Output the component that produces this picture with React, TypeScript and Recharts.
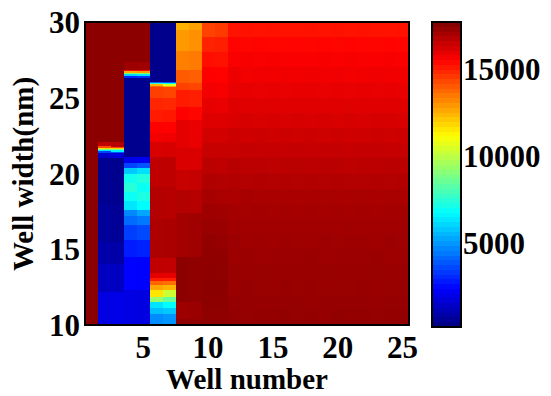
import { ComposedChart, XAxis, YAxis, ReferenceArea } from 'recharts'

// colour range of the colorbar (counts)
const cMin = 150
const cMax = 17680

const xTicks = [5, 10, 15, 20, 25]
const yTicks = [10, 15, 20, 25, 30]
const barTicks = [5000, 10000, 15000]

// wells 1-9: [from nm, to nm, counts]
const well1 = [[10, 20, 17480], [20, 30, 17440]]
const well2 = [
  [10, 12.2, 1850], [12.2, 14, 1250], [14, 15.5, 900], [15.5, 18, 600], [18, 21.0, 450],
  [21.0, 21.38, 1500], [21.38, 21.47, 3500], [21.47, 21.55, 6200], [21.55, 21.62, 8800],
  [21.62, 21.7, 11800], [21.7, 21.8, 14200], [21.8, 22.05, 16600], [22.05, 30, 17460],
]
const well3 = [
  [10, 12.2, 1950], [12.2, 14, 1300], [14, 15.5, 850], [15.5, 18, 550], [18, 21.0, 420],
  [21.0, 21.35, 1700], [21.35, 21.45, 3800], [21.45, 21.53, 6500], [21.53, 21.6, 9000],
  [21.6, 21.68, 12000], [21.68, 21.78, 14300], [21.78, 22.05, 16700], [22.05, 30, 17460],
]
const well4 = [
  [10, 12.3, 1850], [12.3, 14.5, 2350], [14.5, 15.6, 2800], [15.6, 16.6, 3400], [16.6, 17.2, 4200],
  [17.2, 17.6, 4700], [17.6, 18.2, 6300], [18.2, 18.8, 6900], [18.8, 19.4, 7400], [19.4, 20.0, 7000],
  [20.0, 20.35, 5800], [20.35, 20.7, 3500], [20.7, 21.1, 2000], [21.1, 26.3, 400],
  [26.3, 26.45, 3000], [26.45, 26.55, 6000], [26.55, 26.65, 9000], [26.65, 26.75, 12500],
  [26.75, 26.85, 15400], [26.85, 27.35, 17150], [27.35, 30, 17460],
]
const well5 = [
  [10, 12.3, 1800], [12.3, 14.5, 2300], [14.5, 15.6, 2900], [15.6, 16.6, 3600], [16.6, 17.2, 4400],
  [17.2, 17.6, 5200], [17.6, 18.2, 6700], [18.2, 18.8, 7200], [18.8, 19.4, 6900], [19.4, 20.0, 7300],
  [20.0, 20.35, 6200], [20.35, 20.7, 3800], [20.7, 21.1, 2100], [21.1, 26.3, 420],
  [26.3, 26.45, 3200], [26.45, 26.55, 6300], [26.55, 26.65, 9300], [26.65, 26.75, 12800],
  [26.75, 26.85, 15500], [26.85, 27.35, 17100], [27.35, 30, 17460],
]
const well6 = [
  [10, 10.7, 4750], [10.7, 11.15, 5630], [11.15, 11.55, 6280], [11.55, 11.85, 9350], [11.85, 12.3, 11550],
  [12.3, 12.65, 12640], [12.65, 12.9, 13740], [12.9, 13.1, 15050], [13.1, 13.45, 15930], [13.45, 14.45, 16580],
  [14.45, 17.0, 16900], [17.0, 19.1, 16800], [19.1, 21.1, 16580], [21.1, 22.1, 16150], [22.1, 22.7, 15700],
  [22.7, 23.4, 15490], [23.4, 24.2, 15050], [24.2, 25.0, 14850], [25.0, 25.7, 14400],
  [25.7, 25.78, 13800], [25.78, 25.9, 12300], [25.9, 25.97, 7500], [25.97, 26.05, 4000], [26.05, 30, 380],
]
const well7 = [
  [10, 10.7, 4900], [10.7, 11.15, 5800], [11.15, 11.55, 6720], [11.55, 11.85, 8480], [11.85, 12.3, 10230],
  [12.3, 12.65, 12400], [12.65, 12.9, 13600], [12.9, 13.1, 15000], [13.1, 13.45, 15900], [13.45, 14.45, 16550],
  [14.45, 17.0, 16950], [17.0, 19.1, 16750], [19.1, 21.1, 16600], [21.1, 22.1, 16200], [22.1, 22.7, 15750],
  [22.7, 23.4, 15450], [23.4, 24.2, 15100], [24.2, 25.0, 14800], [25.0, 25.7, 14300],
  [25.7, 25.78, 12600], [25.78, 25.9, 10500], [25.9, 25.97, 6800], [25.97, 26.05, 3800], [26.05, 30, 380],
]
const well8 = [
  [10, 10.4, 17400], [10.4, 11.5, 17150], [11.5, 14.5, 17450], [14.5, 17.4, 17050], [17.4, 18.9, 16800],
  [18.9, 20.2, 16450], [20.2, 21.7, 16150], [21.7, 23.5, 15930], [23.5, 24.4, 15490], [24.4, 25.5, 15050],
  [25.5, 26.0, 14400], [26.0, 26.8, 13950], [26.8, 28.1, 13300], [28.1, 29.45, 12860], [29.45, 30, 12450],
]
const well9 = [
  [10, 10.4, 17350], [10.4, 11.5, 17200], [11.5, 14.5, 17400], [14.5, 17.4, 17100], [17.4, 18.9, 16750],
  [18.9, 20.2, 16500], [20.2, 21.7, 16100], [21.7, 23.5, 15850], [23.5, 24.4, 15400], [24.4, 25.5, 14950],
  [25.5, 26.0, 14300], [26.0, 26.8, 13850], [26.8, 28.1, 13400], [28.1, 29.45, 13000], [29.45, 30, 12700],
]

// wells 10-25: one value per 1 nm row, from 10 nm upwards
const rowEdges = [10, 11, 12, 13, 14, 15, 16, 17, 18, 19, 20, 21, 22, 23, 24, 25, 26, 27, 28, 29, 30]
const well10 = [17420, 17450, 17460, 17430, 17400, 17350, 17250, 17150, 17000, 16850, 16650, 16450, 16250, 16050, 15900, 15700, 15500, 15250, 14900, 14350]
const well11 = [17400, 17430, 17450, 17420, 17380, 17300, 17200, 17100, 16950, 16800, 16600, 16450, 16250, 16050, 15850, 15650, 15450, 15200, 14950, 14500]
const well12 = [17330, 17310, 17210, 17240, 17150, 17190, 17080, 17060, 16910, 16820, 16700, 16450, 16350, 16130, 16050, 15860, 15760, 15550, 15440, 15180]
const well13 = [17300, 17280, 17270, 17200, 17200, 17120, 17120, 17000, 16980, 16780, 16640, 16500, 16300, 16190, 16000, 15900, 15700, 15600, 15400, 15200]
const well14 = [17350, 17260, 17240, 17240, 17160, 17160, 17080, 17050, 16930, 16820, 16670, 16460, 16350, 16150, 16040, 15860, 15740, 15560, 15430, 15160]
const well15 = [17320, 17300, 17230, 17200, 17190, 17130, 17110, 17010, 16960, 16790, 16630, 16500, 16310, 16180, 16010, 15890, 15710, 15590, 15410, 15190]
const well16 = [17340, 17270, 17260, 17230, 17170, 17160, 17090, 17040, 16940, 16810, 16660, 16470, 16340, 16160, 16030, 15870, 15730, 15570, 15420, 15170]
const well17 = [17310, 17290, 17240, 17210, 17180, 17140, 17100, 17020, 16950, 16800, 16650, 16490, 16320, 16170, 16020, 15880, 15720, 15580, 15420, 15180]
const well18 = [17330, 17260, 17260, 17200, 17200, 17130, 17090, 17050, 16940, 16820, 16640, 16470, 16340, 16160, 16010, 15890, 15730, 15560, 15410, 15200]
const well19 = [17300, 17300, 17230, 17240, 17160, 17170, 17100, 17010, 16960, 16790, 16670, 16480, 16310, 16190, 16030, 15860, 15710, 15600, 15440, 15170]
const well20 = [17350, 17280, 17250, 17210, 17190, 17140, 17080, 17040, 16930, 16810, 16650, 16500, 16350, 16150, 16000, 15880, 15740, 15570, 15400, 15190]
const well21 = [17320, 17270, 17240, 17230, 17170, 17150, 17110, 17020, 16950, 16800, 16630, 16460, 16330, 16180, 16040, 15870, 15700, 15590, 15430, 15160]
const well22 = [17340, 17300, 17260, 17200, 17180, 17160, 17090, 17050, 16970, 16780, 16660, 16490, 16310, 16160, 16010, 15900, 15720, 15560, 15420, 15200]
const well23 = [17310, 17260, 17230, 17240, 17200, 17130, 17100, 17010, 16940, 16820, 16640, 16480, 16340, 16170, 16030, 15860, 15740, 15580, 15410, 15180]
const well24 = [17330, 17290, 17250, 17210, 17160, 17170, 17080, 17040, 16960, 16800, 16670, 16470, 16320, 16190, 16020, 15890, 15710, 15600, 15440, 15170]
const well25 = [17350, 17280, 17240, 17230, 17190, 17140, 17110, 17030, 16950, 16810, 16650, 16500, 16350, 16150, 16000, 15870, 15730, 15570, 15420, 15190]

const segWells = [well1, well2, well3, well4, well5, well6, well7, well8, well9]
const rowWells = [well10, well11, well12, well13, well14, well15, well16, well17, well18, well19, well20, well21, well22, well23, well24, well25]

// matlab jet colormap, 64 levels on the colorbar
const clamp = (n: number) => Math.max(0, Math.min(1, n))
function jetT(t: number) {
  const r = clamp(1.5 - Math.abs(4 * t - 3))
  const g = clamp(1.5 - Math.abs(4 * t - 2))
  const b = clamp(1.5 - Math.abs(4 * t - 1))
  return `rgb(${Math.round(r * 255)},${Math.round(g * 255)},${Math.round(b * 255)})`
}
const jet = (v: number) => jetT(clamp((v - cMin) / (cMax - cMin)))
const nLevels = 64
const levels = Array.from({ length: nLevels }, (_, k) => k)

type Cell = { x1: number; x2: number; y1: number; y2: number; v: number }
const cells: Cell[] = []
segWells.forEach((segs, i) => segs.forEach(([y1, y2, v]) => cells.push({ x1: i + 0.5, x2: i + 1.5, y1, y2, v })))
rowWells.forEach((vals, j) => vals.forEach((v, k) => cells.push({ x1: j + 9.5, x2: j + 10.5, y1: rowEdges[k], y2: rowEdges[k + 1], v })))

const font = "'Liberation Serif', 'Times New Roman', serif"
const tickStyle = { fontSize: 31, fontWeight: 'bold', fill: '#000', fontFamily: font }

export default function App() {
  return (
    <div style={{ position: 'absolute', left: 0, top: 0, width: 551, height: 396, background: '#fff', fontFamily: font }}>
      <ComposedChart width={551} height={396} margin={{ top: 22, right: 142, bottom: 0, left: 0 }}>
        <XAxis type="number" dataKey="x" domain={[0.5, 25.5]} allowDataOverflow ticks={xTicks} height={71}
          tickSize={0} tickMargin={11} tick={tickStyle} axisLine={false}
          label={{ value: 'Well number', position: 'insideBottom', offset: 7, style: { fontSize: 29, fontWeight: 'bold', fill: '#000', fontFamily: font } }} />
        <YAxis type="number" dataKey="y" domain={[10, 30]} allowDataOverflow ticks={yTicks} width={85}
          tickSize={0} tickMargin={5} tick={tickStyle} axisLine={false}
          label={{ position: 'center', content: () => (
            <text x={33} y={174} transform="rotate(-90 33 174)" textAnchor="middle" fontSize={29} fontWeight="bold" fontFamily={font} fill="#000">Well width(nm)</text>
          ) }} />
        {cells.map((c, i) => (
          <ReferenceArea key={i} x1={c.x1} x2={c.x2} y1={c.y1} y2={c.y2} fill={jet(c.v)} fillOpacity={1} stroke="none" shapeRendering="crispEdges" ifOverflow="visible" />
        ))}
        <ReferenceArea x1={0.5} x2={25.5} y1={10} y2={30} fill="none" stroke="#000" strokeWidth={2} ifOverflow="visible" />
      </ComposedChart>
      <div style={{ position: 'absolute', left: 0, top: 0 }}>
        <ComposedChart width={551} height={396} margin={{ top: 22, right: 0, bottom: 69, left: 432 }}>
          <XAxis type="number" dataKey="x" domain={[0, 1]} allowDataOverflow hide />
          <YAxis type="number" dataKey="v" orientation="right" domain={[cMin, cMax]} allowDataOverflow ticks={barTicks} width={90}
            tickSize={0} tickMargin={2} tick={{ ...tickStyle, textAnchor: 'start' }} axisLine={false} />
          {levels.map((k) => (
            <ReferenceArea key={k} x1={0} x2={1}
              y1={cMin + (k * (cMax - cMin)) / nLevels} y2={cMin + ((k + 1) * (cMax - cMin)) / nLevels}
              fill={jetT((k + 0.5) / nLevels)} fillOpacity={1} stroke="none" shapeRendering="crispEdges" ifOverflow="visible" />
          ))}
          <ReferenceArea x1={0} x2={1} y1={cMin} y2={cMax} fill="none" stroke="#000" strokeWidth={2} ifOverflow="visible" />
        </ComposedChart>
      </div>
    </div>
  )
}
